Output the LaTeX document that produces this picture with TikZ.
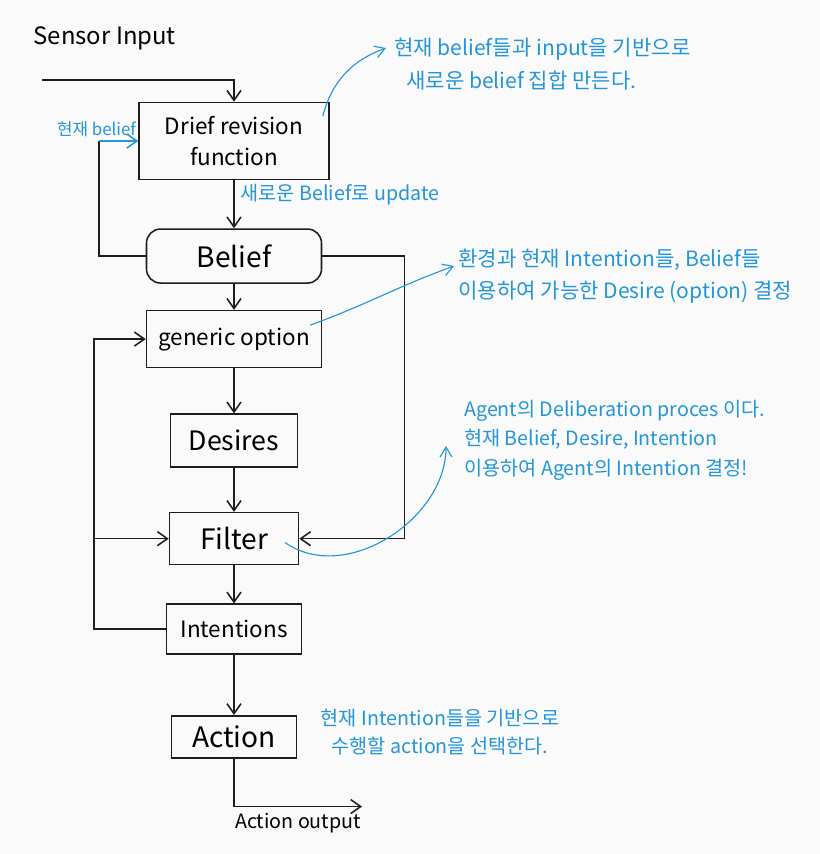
\documentclass[tikz,border=0pt]{standalone}
\usepackage{fontspec}
\setmainfont{Noto Sans CJK KR}
\usetikzlibrary{arrows.meta, positioning}
\definecolor{inkblack}{RGB}{30,30,30}
\definecolor{inkblue}{RGB}{35,150,215}
\definecolor{paper}{RGB}{250,250,250}
\tikzset{
  stage/.style={rectangle, draw=inkblack, line width=1.1pt,
    inner sep=2pt, align=center, font=\fontsize{16}{22}\selectfont},
  store/.style={stage, rounded corners=10pt},
  arrow/.style={-{Straight Barb[length=2.5mm,width=3.5mm]},
    line width=1.1pt, draw=inkblack},
  notetext/.style={text=inkblue, align=left, inner sep=0pt,
    font=\fontsize{15}{23}\selectfont},
  notearrow/.style={-{Straight Barb[length=2.5mm,width=3mm]},
    line width=0.8pt, draw=inkblue},
}
\begin{document}
\begin{tikzpicture}[node distance=1.1cm]
  \fill[paper] (0,0) rectangle (20.5,-21.35);
  \useasboundingbox (0,0) rectangle (20.5,-21.35);

  % main column
  \node[font=\fontsize{17}{20}\selectfont] (sensor) at (2.62,-0.95)
    {Sensor Input};
  \node[stage, minimum width=4.75cm, minimum height=1.925cm] (brf)
    at (5.85,-3.525) {Drief revision\\function};
  \node[store, below=1.2cm of brf, minimum width=4.375cm,
    minimum height=1.35cm, font=\fontsize{20}{24}\selectfont] (belief)
    {Belief};
  \node[stage, below=0.65cm of belief, minimum width=4.375cm,
    minimum height=1.425cm] (generic) {generic option};
  \node[stage, below=1.125cm of generic, minimum width=3.175cm,
    minimum height=1.325cm, font=\fontsize{19}{22}\selectfont] (desires)
    {Desires};
  \node[stage, below=1.1cm of desires, minimum width=3.225cm,
    minimum height=1.3cm, font=\fontsize{20}{24}\selectfont] (filter)
    {Filter};
  \node[stage, below=0.95cm of filter, minimum width=3.375cm,
    minimum height=1.25cm] (intentions) {Intentions};
  \node[stage, below=1.5cm of intentions, minimum width=3.125cm,
    minimum height=1.05cm, inner sep=1pt, font=\fontsize{20}{24}\selectfont]
    (action) {Action};

  % flow
  \coordinate (inp) at (1.05,-2.0);
  \draw[arrow] (inp) -| (brf.north);
  \draw[arrow] (brf) -- (belief)
    node[notetext, pos=0.3, right=0.15cm, font=\fontsize{14}{18}\selectfont]
    {새로운 Belief로 update};
  \draw[arrow] (belief) -- (generic);
  \draw[arrow] (generic) -- (desires);
  \draw[arrow] (desires) -- (filter);
  \draw[arrow] (filter) -- (intentions);
  \draw[arrow] (intentions) -- (action);

  % feedback loops
  \coordinate[left=0.975cm of brf.west] (brfin);
  \draw[line width=1.1pt, draw=inkblack] (belief.west) -| (brfin);
  \draw[arrow, draw=inkblue] (brfin) -- (brf.west);
  \node[notetext, font=\fontsize{12}{14}\selectfont,
    above left=0.1cm and 0.05cm of brf.west] (curbelief) {현재 belief};
  \draw[arrow] (belief.east) -- ++(2.05,0) |- (filter.east);
  \draw[arrow] (intentions.west) -- ++(-1.8,0) coordinate (loopleft)
    |- (generic.west);
  \draw[arrow] (loopleft |- filter.west) -- (filter.west);

  % output
  \draw[arrow] (action.south) -- ++(0,-1.2) -- ++(3.2,0)
    node[midway, below=0.02cm, font=\fontsize{14}{16}\selectfont]
    {Action output};

  % notes
  \node[notetext, anchor=west] (note1) at (9.85,-1.6)
    {현재 belief들과 input을 기반으로\\\hspace{0.3cm}새로운 belief 집합 만든다.};
  \draw[notearrow] ([shift={(-0.175,-0.36)}]brf.north east)
    to[out=75,in=200] ([shift={(-0.2,0.4)}]note1.west);
  \node[notetext, anchor=west] (note2) at (11.45,-6.9)
    {환경과 현재 Intention들, Belief들\\이용하여 가능한 Desire (option) 결정};
  \draw[notearrow] ([shift={(-0.3,0.35)}]generic.east)
    to[out=20,in=200] ([shift={(-0.1,0.25)}]note2.west);
  \node[notetext, anchor=west, font=\fontsize{14}{21}\selectfont] (note3)
    at (11.6,-11.0)
    {Agent의 Deliberation proces 이다.\\현재 Belief, Desire, Intention\\이용하여 Agent의 Intention 결정!};
  \draw[notearrow] ([shift={(-0.35,-0.1)}]filter.east)
    to[out=-35,in=-90] ([shift={(-0.45,-0.15)}]note3.west);
  \node[notetext, align=center, font=\fontsize{14}{20}\selectfont] (note4)
    at (11.0,-18.3)
    {현재 Intention들을 기반으로\\수행할 action을 선택한다.};
\end{tikzpicture}
\end{document}
